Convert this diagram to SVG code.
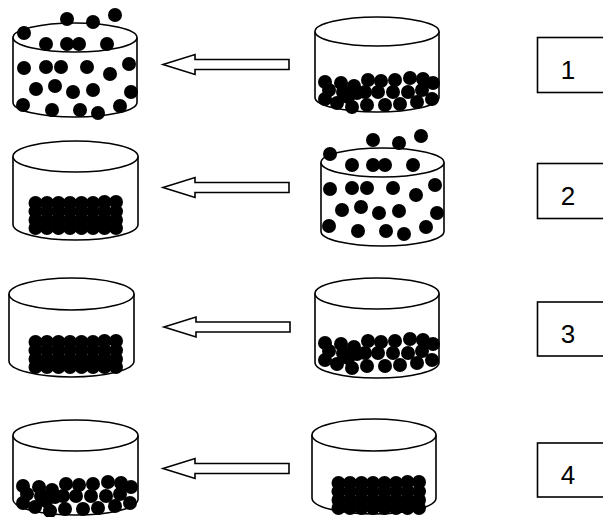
<svg xmlns="http://www.w3.org/2000/svg" xmlns:xlink="http://www.w3.org/1999/xlink" width="603" height="517" viewBox="0 0 603 517">
<style>
.cyl{fill:#fff;stroke:#000;stroke-width:1.6}
.ball{fill:#000}
.arrow{fill:#fff;stroke:#000;stroke-width:1.6;stroke-linejoin:miter}
.box{fill:#fff;stroke:#000;stroke-width:1.6}
.num{font-family:"Liberation Sans",Arial,sans-serif;font-size:26px;fill:#000;text-anchor:middle}
</style>
<defs>
<g id="scatter" class="ball">
<circle cx="67" cy="19" r="7"/><circle cx="93" cy="22" r="7"/><circle cx="115" cy="15" r="7"/>
<circle cx="24" cy="33" r="7"/><circle cx="46" cy="44" r="7"/><circle cx="67" cy="44" r="7"/>
<circle cx="79" cy="44" r="7"/><circle cx="107" cy="44" r="7"/>
<circle cx="24" cy="68" r="7"/><circle cx="46" cy="67" r="7"/><circle cx="61" cy="67" r="7"/>
<circle cx="87" cy="67" r="7"/><circle cx="110" cy="74" r="7"/><circle cx="129" cy="64" r="7"/>
<circle cx="36" cy="89" r="7"/><circle cx="55" cy="86" r="7"/><circle cx="73" cy="92" r="7"/>
<circle cx="93" cy="90" r="7"/><circle cx="131" cy="92" r="7"/>
<circle cx="23" cy="105" r="7"/><circle cx="52" cy="110" r="7"/><circle cx="80" cy="110" r="7"/>
<circle cx="98" cy="113" r="7"/><circle cx="120" cy="106" r="7"/>
</g>
<g id="jumble" class="ball">
<circle cx="325" cy="82" r="7"/><circle cx="341" cy="83" r="7"/><circle cx="354" cy="86" r="7"/>
<circle cx="368" cy="80" r="7"/><circle cx="381" cy="81" r="7"/><circle cx="395" cy="80" r="7"/>
<circle cx="410" cy="78" r="7"/><circle cx="423" cy="79" r="7"/><circle cx="433" cy="83" r="7"/>
<circle cx="329" cy="90" r="7"/><circle cx="343" cy="92" r="7"/><circle cx="357" cy="93" r="7"/>
<circle cx="365" cy="92" r="7"/><circle cx="378" cy="92" r="7"/><circle cx="393" cy="92" r="7"/>
<circle cx="408" cy="92" r="7"/><circle cx="422" cy="90" r="7"/><circle cx="348" cy="97" r="7"/>
<circle cx="325" cy="99" r="7"/><circle cx="337" cy="103" r="7"/><circle cx="352" cy="107" r="7"/>
<circle cx="367" cy="105" r="7"/><circle cx="385" cy="105" r="7"/><circle cx="400" cy="104" r="7"/>
<circle cx="417" cy="102" r="7"/><circle cx="432" cy="99" r="7"/>
</g>
<g id="grid" class="ball">
<circle cx="35.5" cy="203" r="7"/><circle cx="47" cy="203" r="7"/><circle cx="58.5" cy="203" r="7"/><circle cx="70" cy="203" r="7"/><circle cx="81.5" cy="203" r="7"/><circle cx="93" cy="203" r="7"/><circle cx="104.5" cy="202" r="7"/><circle cx="116" cy="202" r="7"/>
<circle cx="35.5" cy="211.5" r="7"/><circle cx="47" cy="211.5" r="7"/><circle cx="58.5" cy="211.5" r="7"/><circle cx="70" cy="211.5" r="7"/><circle cx="81.5" cy="211.5" r="7"/><circle cx="93" cy="211.5" r="7"/><circle cx="104.5" cy="211.5" r="7"/><circle cx="116" cy="211.5" r="7"/>
<circle cx="35.5" cy="220" r="7"/><circle cx="47" cy="220" r="7"/><circle cx="58.5" cy="220" r="7"/><circle cx="70" cy="220" r="7"/><circle cx="81.5" cy="220" r="7"/><circle cx="93" cy="220" r="7"/><circle cx="104.5" cy="220" r="7"/><circle cx="116" cy="220" r="7"/>
<circle cx="35.5" cy="228" r="7"/><circle cx="47" cy="228" r="7"/><circle cx="58.5" cy="228" r="7"/><circle cx="70" cy="228" r="7"/><circle cx="81.5" cy="228" r="7"/><circle cx="93" cy="228" r="7"/><circle cx="104.5" cy="228" r="7"/><circle cx="116" cy="228" r="7"/>
</g>
<path id="arr" class="arrow" d="M0,0 L32,-10 L32,-5 L126,-5 L126,5 L32,5 L32,10 Z"/>
</defs>

<g id="cyl-1-left">
<path class="cyl" d="M13,37.5 L13,102.5 A62,14.5 0 0 0 137,102.5 L137,37.5"/>
<ellipse class="cyl" cx="75" cy="37.5" rx="62" ry="14.5"/>
<use xlink:href="#scatter"/>
</g>
<g id="cyl-1-right">
<path class="cyl" d="M315,31.5 L315,97.5 A62,14.5 0 0 0 439,97.5 L439,31.5"/>
<ellipse class="cyl" cx="377" cy="31.5" rx="62" ry="14.5"/>
<use xlink:href="#jumble"/>
</g>
<g id="cyl-2-left">
<path class="cyl" d="M13,156.5 L13,224.5 A62.5,15.5 0 0 0 138,224.5 L138,156.5"/>
<ellipse class="cyl" cx="75.5" cy="156.5" rx="62.5" ry="15.5"/>
<use xlink:href="#grid"/>
</g>
<g id="cyl-2-right">
<path class="cyl" d="M321,162.5 L321,231.5 A61.5,14.5 0 0 0 444,231.5 L444,162.5"/>
<ellipse class="cyl" cx="382.5" cy="162.5" rx="61.5" ry="14.5"/>
<use xlink:href="#scatter" transform="translate(306,121)"/>
</g>
<g id="cyl-3-left">
<path class="cyl" d="M9,294 L9,361 A62.5,16 0 0 0 134,361 L134,294"/>
<ellipse class="cyl" cx="71.5" cy="294" rx="62.5" ry="16"/>
<use xlink:href="#grid" transform="translate(0,139)"/>
</g>
<g id="cyl-3-right">
<path class="cyl" d="M315,293.5 L315,362.5 A62,15.5 0 0 0 439,362.5 L439,293.5"/>
<ellipse class="cyl" cx="377" cy="293.5" rx="62" ry="15.5"/>
<use xlink:href="#jumble" transform="translate(0,261)"/>
</g>
<g id="cyl-4-left">
<path class="cyl" d="M13,435.5 L13,499.5 A62.5,15.5 0 0 0 138,499.5 L138,435.5"/>
<ellipse class="cyl" cx="75.5" cy="435.5" rx="62.5" ry="15.5"/>
<use xlink:href="#jumble" transform="translate(-302,404)"/>
</g>
<g id="cyl-4-right">
<path class="cyl" d="M312,435 L312,498 A62,16 0 0 0 436,498 L436,435"/>
<ellipse class="cyl" cx="374" cy="435" rx="62" ry="16"/>
<use xlink:href="#grid" transform="translate(303,280)"/>
</g>

<g id="connectors">
<use xlink:href="#arr" transform="translate(163,64.5)"/>
<use xlink:href="#arr" transform="translate(163,187.5)"/>
<use xlink:href="#arr" transform="translate(164,327)"/>
<use xlink:href="#arr" transform="translate(163,468.5)"/>
</g>

<g id="label-1"><rect class="box" x="537.5" y="37.5" width="70" height="55"/><text class="num" x="568" y="79">1</text></g>
<g id="label-2"><rect class="box" x="537.5" y="163.5" width="70" height="55"/><text class="num" x="568" y="205">2</text></g>
<g id="label-3"><rect class="box" x="537.5" y="302" width="70" height="54"/><text class="num" x="568" y="343">3</text></g>
<g id="label-4"><rect class="box" x="537.5" y="443" width="70" height="54"/><text class="num" x="568" y="484">4</text></g>
</svg>
